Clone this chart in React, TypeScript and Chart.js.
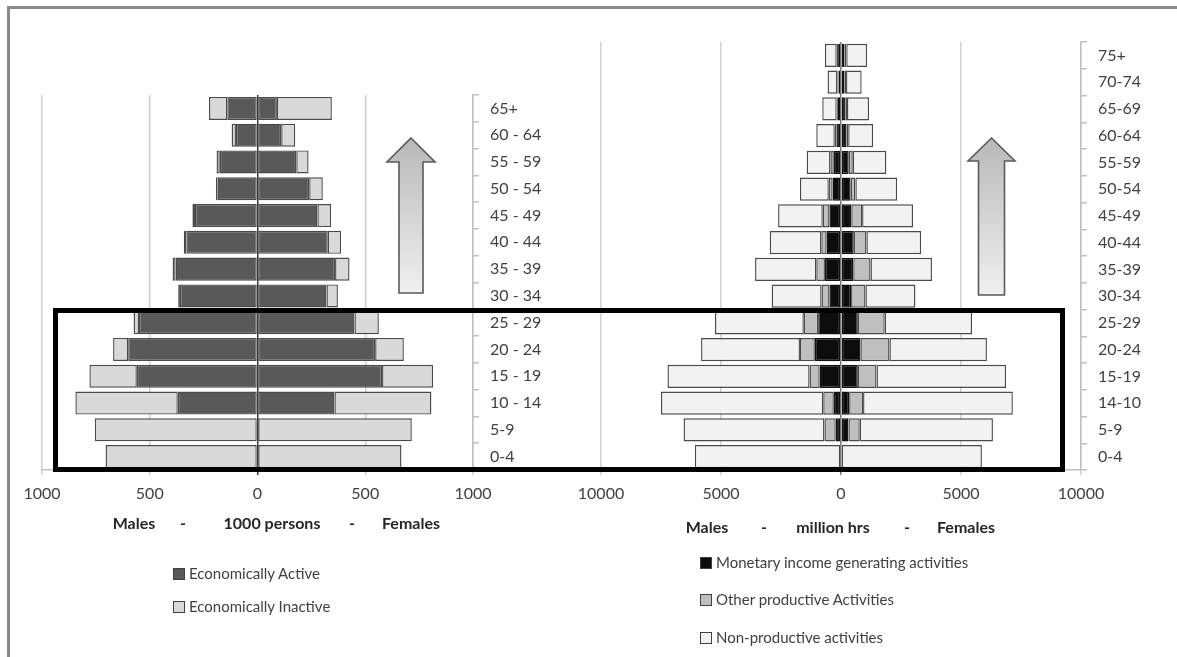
import React, { useEffect, useRef } from 'react';
import { Chart, registerables } from 'chart.js';

Chart.register(...registerables);

const FONT = 'Lato, "Open Sans", "DejaVu Sans", sans-serif';

// ---------- Left pyramid: population, 1000 persons ----------
const leftAgeGroups = ['65+', '60 - 64', '55 - 59', '50 - 54', '45 - 49', '40 - 44', '35 - 39', '30 - 34', '25 - 29', '20 - 24', '15 - 19', '10 - 14', '5-9', '0-4'];
const leftMaleActive = [140, 100, 175, 185, 290, 330, 380, 360, 550, 600, 560, 370, 0, 0];
const leftMaleInactive = [85, 20, 15, 8, 12, 12, 14, 8, 25, 70, 220, 475, 755, 705];
const leftFemaleActive = [90, 110, 180, 240, 278, 326, 360, 320, 450, 546, 578, 357, 0, 0];
const leftFemaleInactive = [255, 65, 57, 63, 64, 62, 67, 53, 113, 133, 237, 450, 716, 668];
const leftRange = 1000;
const leftStep = 500;

// ---------- Right pyramid: time use, million hrs ----------
const rightAgeGroups = ['75+', '70-74', '65-69', '60-64', '55-59', '50-54', '45-49', '40-44', '35-39', '30-34', '25-29', '20-24', '15-19', '14-10', '5-9', '0-4'];
const rightMaleMonetary = [120, 100, 130, 190, 300, 350, 480, 600, 670, 480, 950, 1090, 890, 300, 220, 0];
const rightMaleOther = [60, 50, 50, 70, 140, 160, 280, 220, 360, 330, 600, 620, 420, 440, 470, 0];
const rightMaleNonProductive = [490, 410, 600, 770, 990, 1200, 1860, 2150, 2550, 2080, 3700, 4120, 5920, 6760, 5870, 6090];
const rightFemaleMonetary = [140, 140, 190, 230, 320, 400, 430, 530, 510, 420, 700, 810, 700, 340, 310, 0];
const rightFemaleOther = [80, 70, 60, 70, 170, 200, 450, 530, 720, 600, 1120, 1210, 780, 580, 470, 0];
const rightFemaleNonProductive = [870, 650, 920, 1040, 1400, 1740, 2120, 2280, 2560, 2080, 3640, 4060, 5400, 6240, 5550, 5870];
const rightRange = 10000;
const rightStep = 5000;

const COL_ACTIVE = '#595959';
const COL_INACTIVE = '#d9d9d9';
const COL_MONETARY = '#0d0d0d';
const COL_OTHER = '#bfbfbf';
const COL_NONPROD = '#f2f2f2';
const BORDER = '#4a4a4a';

const neg = (arr: number[]) => arr.map((v) => -v);

function ds(label: string, data: number[], color: string, border: string = BORDER) {
  return {
    label,
    data,
    backgroundColor: color,
    borderColor: border,
    borderWidth: 1.4,
    borderSkipped: false,
    stack: 's',
    barPercentage: 0.86,
    categoryPercentage: 1,
  };
}

function buildOptions(range: number, step: number, pad: any, zeroColor: string) {
  return {
    indexAxis: 'y',
    responsive: false,
    maintainAspectRatio: false,
    animation: false,
    layout: { padding: pad },
    plugins: { legend: { display: false }, tooltip: { enabled: false }, title: { display: false } },
    scales: {
      x: {
        stacked: true,
        min: -range,
        max: range,
        ticks: {
          stepSize: step,
          autoSkip: false,
          maxRotation: 0,
          color: '#404040',
          font: { family: FONT, size: 16 },
          padding: 9,
          callback: (v: any) => String(Math.abs(Number(v))),
        },
        grid: {
          color: (c: any) => (c.tick && c.tick.value === 0 ? zeroColor : '#d0d0d0'),
          lineWidth: 1.5,
          drawTicks: true,
          tickLength: 5,
        },
        border: { display: true, color: '#bfbfbf', width: 1.5 },
        afterFit: (s: any) => {
          s.height = 40;
        },
      },
      y: {
        stacked: true,
        position: 'right',
        ticks: {
          autoSkip: false,
          color: '#404040',
          font: { family: FONT, size: 16 },
          padding: 11,
        },
        grid: { drawOnChartArea: false, drawTicks: true, tickLength: 6, color: '#bfbfbf', lineWidth: 1.5 },
        border: { display: true, color: '#bfbfbf', width: 1.5 },
        afterFit: (s: any) => {
          s.width = 80;
        },
      },
    },
  };
}

function Arrow({ x, tipY, wingY, bottomY, shaftW, wingW, id }: any) {
  const pts = [
    [x, tipY],
    [x + wingW / 2, wingY],
    [x + shaftW / 2, wingY],
    [x + shaftW / 2, bottomY],
    [x - shaftW / 2, bottomY],
    [x - shaftW / 2, wingY],
    [x - wingW / 2, wingY],
  ]
    .map((p) => p.join(','))
    .join(' ');
  return (
    <g>
      <defs>
        <linearGradient id={id} x1="0" y1="0" x2="0" y2="1">
          <stop offset="0" stopColor="#b8b8b8" />
          <stop offset="1" stopColor="#f0f0f0" />
        </linearGradient>
      </defs>
      <polygon points={pts} fill={`url(#${id})`} stroke="#5a5a5a" strokeWidth={1.6} strokeLinejoin="miter" />
    </g>
  );
}

const legendText: any = { position: 'absolute', fontFamily: FONT, fontSize: 15, color: '#404040', lineHeight: '20px', whiteSpace: 'nowrap' };
const titleText: any = { position: 'absolute', fontFamily: FONT, fontSize: 16, fontWeight: 700, color: '#262626', transform: 'translateX(-50%)', lineHeight: '20px', whiteSpace: 'nowrap' };

function LegendItem({ x, y, color, label }: any) {
  return (
    <div style={{ ...legendText, left: x, top: y - 10 }}>
      <span style={{ display: 'inline-block', width: 10, height: 10, background: color, border: '1px solid #404040', marginRight: 4, verticalAlign: '-1px' }} />
      {label}
    </div>
  );
}

export default function App() {
  const leftRef = useRef<HTMLCanvasElement>(null);
  const rightRef = useRef<HTMLCanvasElement>(null);

  useEffect(() => {
    const W = 1177;
    const H = 657;
    const left = new Chart(leftRef.current as HTMLCanvasElement, {
      type: 'bar',
      data: {
        labels: leftAgeGroups,
        datasets: [
          ds('Economically Active', neg(leftMaleActive), COL_ACTIVE),
          ds('Economically Inactive', neg(leftMaleInactive), COL_INACTIVE),
          ds('Economically Active (F)', leftFemaleActive, COL_ACTIVE),
          ds('Economically Inactive (F)', leftFemaleInactive, COL_INACTIVE),
        ],
      },
      options: buildOptions(leftRange, leftStep, { left: 42, top: 95, right: W - 473 - 80, bottom: H - 470 - 40 }, '#3a3a3a') as any,
    });
    const right = new Chart(rightRef.current as HTMLCanvasElement, {
      type: 'bar',
      data: {
        labels: rightAgeGroups,
        datasets: [
          ds('Monetary income generating activities', neg(rightMaleMonetary), COL_MONETARY, '#111111'),
          ds('Other productive Activities', neg(rightMaleOther), COL_OTHER),
          ds('Non-productive activities', neg(rightMaleNonProductive), COL_NONPROD),
          ds('Monetary (F)', rightFemaleMonetary, COL_MONETARY, '#111111'),
          ds('Other (F)', rightFemaleOther, COL_OTHER),
          ds('Non-productive (F)', rightFemaleNonProductive, COL_NONPROD),
        ],
      },
      options: buildOptions(rightRange, rightStep, { left: 601, top: 42, right: W - 1081 - 80, bottom: H - 470 - 40 }, '#7a7a7a') as any,
    });
    return () => {
      left.destroy();
      right.destroy();
    };
  }, []);

  return (
    <div style={{ position: 'fixed', left: 0, top: 0, width: 1177, height: 657, background: '#fff', overflow: 'hidden' }}>
      <div style={{ position: 'absolute', left: 7, top: 6, width: 1300, height: 800, border: '3px solid #8a8a8a' }} />
      <canvas ref={leftRef} width={1177} height={657} style={{ position: 'absolute', left: 0, top: 0 }} />
      <canvas ref={rightRef} width={1177} height={657} style={{ position: 'absolute', left: 0, top: 0 }} />
      <svg width={1177} height={657} style={{ position: 'absolute', left: 0, top: 0 }}>
        <Arrow id="ga" x={411} tipY={138} wingY={162} bottomY={293} shaftW={24} wingW={48} />
        <Arrow id="gb" x={991.5} tipY={138} wingY={161} bottomY={295} shaftW={26} wingW={47} />
      </svg>
      <div style={{ position: 'absolute', left: 53, top: 308, width: 1012, height: 164, border: '5px solid #000', boxSizing: 'border-box' }} />

      <div style={{ ...titleText, left: 134, top: 513 }}>Males</div>
      <div style={{ ...titleText, left: 183, top: 513 }}>-</div>
      <div style={{ ...titleText, left: 272, top: 513 }}>1000 persons</div>
      <div style={{ ...titleText, left: 352, top: 513 }}>-</div>
      <div style={{ ...titleText, left: 411, top: 513 }}>Females</div>

      <div style={{ ...titleText, left: 707, top: 517 }}>Males</div>
      <div style={{ ...titleText, left: 764, top: 517 }}>-</div>
      <div style={{ ...titleText, left: 833, top: 517 }}>million hrs</div>
      <div style={{ ...titleText, left: 907, top: 517 }}>-</div>
      <div style={{ ...titleText, left: 966, top: 517 }}>Females</div>

      <LegendItem x={173} y={573} color={COL_ACTIVE} label="Economically Active" />
      <LegendItem x={173} y={606} color={COL_INACTIVE} label="Economically Inactive" />

      <LegendItem x={700} y={562} color={COL_MONETARY} label="Monetary income generating activities" />
      <LegendItem x={700} y={599} color={COL_OTHER} label="Other productive Activities" />
      <LegendItem x={700} y={637} color={COL_NONPROD} label="Non-productive activities" />
    </div>
  );
}
